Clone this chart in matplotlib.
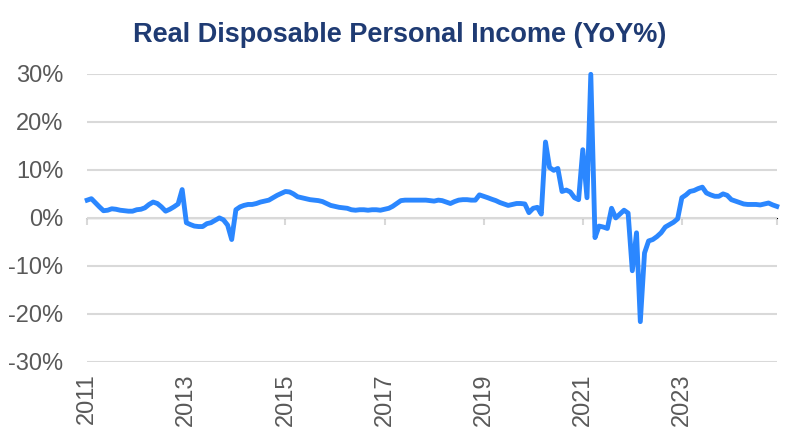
import matplotlib
matplotlib.use("Agg")
import matplotlib.pyplot as plt
import pandas as pd

plt.rcParams['font.family'] = ['Liberation Sans', 'DejaVu Sans']

dates = pd.date_range("2011-01-01", "2024-12-01", freq="MS")

yoy = [
    # 2011
    3.7, 4.0, 3.2, 2.3, 1.5, 1.6, 1.9, 1.8, 1.6, 1.5, 1.4, 1.4,
    # 2012
    1.7, 1.8, 2.1, 2.8, 3.3, 3.0, 2.3, 1.4, 1.8, 2.3, 2.9, 5.9,
    # 2013
    -1.0, -1.4, -1.7, -1.8, -1.8, -1.2, -1.0, -0.5, 0.0, -0.4, -1.5, -4.5,
    # 2014
    1.7, 2.3, 2.6, 2.8, 2.8, 3.0, 3.3, 3.5, 3.7, 4.2, 4.7, 5.1,
    # 2015
    5.5, 5.4, 5.0, 4.4, 4.2, 4.0, 3.8, 3.7, 3.6, 3.4, 3.0, 2.6,
    # 2016
    2.4, 2.2, 2.1, 2.0, 1.7, 1.6, 1.7, 1.7, 1.6, 1.7, 1.7, 1.6,
    # 2017
    1.8, 2.0, 2.4, 3.0, 3.6, 3.7, 3.7, 3.7, 3.7, 3.7, 3.7, 3.6,
    # 2018
    3.5, 3.7, 3.6, 3.3, 3.0, 3.4, 3.7, 3.8, 3.8, 3.7, 3.7, 4.8,
    # 2019
    4.5, 4.2, 3.9, 3.6, 3.2, 2.9, 2.6, 2.8, 3.0, 3.0, 2.9, 1.1,
    # 2020
    2.0, 2.2, 0.8, 15.8, 10.5, 9.9, 10.3, 5.5, 5.8, 5.4, 4.2, 3.8,
    # 2021
    14.2, 4.2, 29.9, -4.1, -1.7, -1.9, -2.2, 2.0, 0.0, 0.8, 1.6, 1.0,
    # 2022
    -11.0, -3.1, -21.6, -7.3, -4.8, -4.5, -3.9, -3.1, -1.9, -1.4, -0.9, -0.2,
    # 2023
    4.2, 4.8, 5.5, 5.7, 6.1, 6.4, 5.2, 4.8, 4.5, 4.5, 5.0, 4.7,
    # 2024
    3.8, 3.5, 3.2, 2.9, 2.8, 2.8, 2.8, 2.7, 2.9, 3.1, 2.7, 2.4,
]

y_ticks = [-30, -20, -10, 0, 10, 20, 30]
x_tick_years = [2011, 2013, 2015, 2017, 2019, 2021, 2023]

title = "Real Disposable Personal Income (YoY%)"
line_color = "#2B87FF"
grid_color = "#D9D9D9"
text_color = "#595959"
title_color = "#1F3B73"

fig = plt.figure(figsize=(8, 4.42), dpi=100)
ax = fig.add_axes([0.109, 0.181, 0.862, 0.652])

ax.plot(dates, yoy, color=line_color, linewidth=3.5, solid_joinstyle='round', zorder=3, clip_on=False)

ax.set_ylim(-30, 30)
ax.set_xlim(dates[0], dates[-1])
ax.set_yticks(y_ticks)
ax.set_yticklabels([f"{v}%" for v in y_ticks])
ax.yaxis.grid(True, color=grid_color, linewidth=1.5)
ax.set_axisbelow(True)

tick_dates = [pd.Timestamp(f"{y}-01-01") for y in x_tick_years]
ax.set_xticks(tick_dates)
ax.set_xticklabels([str(y) for y in x_tick_years], rotation=90)

for s in ax.spines.values():
    s.set_visible(False)

ax.tick_params(axis='y', length=0, pad=17, labelsize=17, labelcolor=text_color)
ax.tick_params(axis='x', length=0, pad=8, labelsize=17, labelcolor=text_color)

# axis line at zero with tick marks pointing down
sec = ax.secondary_xaxis(0.5)
sec.set_xticks(tick_dates + [dates[-1]])
sec.set_xticklabels([])
sec.spines['bottom'].set_color(grid_color)
sec.spines['bottom'].set_linewidth(1.5)
sec.tick_params(axis='x', direction='in', length=5, width=1.5, color=grid_color)

fig.suptitle(title, x=0.5, y=0.95, fontsize=19.5, fontweight='bold', color=title_color)

fig.savefig("out.png", dpi=100)
